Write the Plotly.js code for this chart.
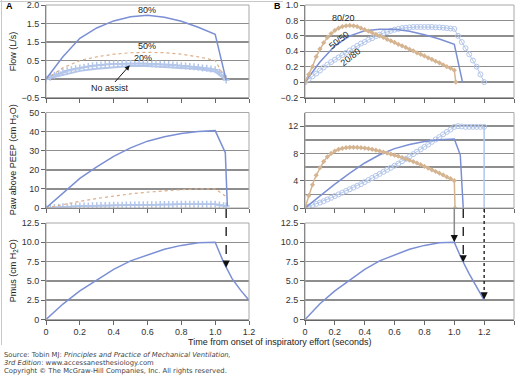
<!DOCTYPE html>
<html><head><meta charset="utf-8">
<script src="https://cdn.plot.ly/plotly-3.0.1.min.js"></script>
<style>html,body{margin:0;padding:0;background:#fff}#chart{width:520px;height:377px}</style>
</head><body><div id="chart"></div><script>
// ---------- DATA ----------
// Panel A (time in seconds)
const tA = [0,0.1,0.2,0.3,0.4,0.5,0.6,0.7,0.8,0.9,1.0,1.065];
const flowA80 = [0,0.6,1.1,1.38,1.57,1.68,1.72,1.67,1.56,1.4,1.21,-0.03];
const flowA50 = [0,0.3,0.5,0.6,0.67,0.71,0.72,0.71,0.67,0.6,0.5,-0.03];
const flowANo = [0,0.12,0.22,0.28,0.32,0.35,0.35,0.33,0.3,0.27,0.2,-0.03];
const t025 = [0,0.025,0.05,0.075,0.1,0.125,0.15,0.175,0.2,0.225,0.25,0.275,0.3,0.325,0.35,0.375,0.4,0.425,0.45,0.475,0.5,0.525,0.55,0.575,0.6,0.625,0.65,0.675,0.7,0.725,0.75,0.775,0.8,0.825,0.85,0.875,0.9,0.925,0.95,0.975,1.0];
const tA20tail = [1.025,1.05,1.065];
const flowA20 = [0,0.05,0.1,0.14,0.18,0.22,0.25,0.28,0.3,0.32,0.34,0.355,0.37,0.38,0.39,0.4,0.405,0.41,0.415,0.42,0.42,0.42,0.42,0.42,0.415,0.41,0.405,0.4,0.395,0.39,0.38,0.37,0.36,0.35,0.34,0.33,0.32,0.3,0.29,0.27,0.25,0.18,0.08,-0.03];
const tPawA80 = [0,0.1,0.2,0.3,0.4,0.5,0.6,0.7,0.8,0.9,1.0,1.06,1.072];
const pawA80 = [0,8,15.5,21.5,27,31.5,35,37.3,39,40,40.5,29,1];
const pawA50 = [0,1.8,3.5,5,6.3,7.4,8.3,9,9.6,10,10,6];
const pawA20 = [0,0.15,0.3,0.45,0.6,0.7,0.8,0.9,1.0,1.05,1.1,1.15,1.2,1.25,1.3,1.35,1.4,1.45,1.5,1.55,1.6,1.6,1.65,1.7,1.7,1.75,1.75,1.8,1.8,1.85,1.85,1.9,1.9,1.9,1.95,1.95,1.95,2.0,2.0,2.0,2.0,1.6,1.2,1.0];
const tPmus = [0,0.1,0.2,0.3,0.4,0.5,0.6,0.7,0.8,0.9,1.0,1.05,1.1,1.15,1.2];
const pmusA = [0,2,3.7,5.1,6.5,7.6,8.4,9.1,9.6,9.95,10,7.4,5.3,3.8,2.5];
// Panel B
const tB80tail = [1.01];
const flowB80 = [0,0.1,0.2,0.33,0.43,0.51,0.58,0.63,0.67,0.7,0.72,0.73,0.735,0.73,0.72,0.7,0.68,0.66,0.64,0.62,0.6,0.58,0.555,0.535,0.515,0.49,0.47,0.45,0.425,0.405,0.38,0.36,0.34,0.315,0.295,0.27,0.25,0.225,0.2,0.18,0.155,0];
const tB50 = [0,0.1,0.2,0.3,0.4,0.5,0.6,0.7,0.8,0.9,1.0,1.055];
const flowB50 = [0,0.26,0.47,0.6,0.665,0.685,0.685,0.66,0.615,0.56,0.49,0];
const tB20tail = [1.025,1.05,1.075,1.1,1.125,1.15,1.175,1.2];
const flowB20 = [0,0.04,0.075,0.11,0.15,0.19,0.225,0.26,0.29,0.32,0.35,0.38,0.41,0.44,0.47,0.5,0.52,0.55,0.57,0.595,0.615,0.635,0.65,0.665,0.68,0.69,0.7,0.705,0.71,0.715,0.715,0.715,0.715,0.715,0.715,0.71,0.71,0.705,0.7,0.695,0.69,0.6,0.52,0.44,0.36,0.28,0.2,0.1,0];
const tB80pawTail = [1.005];
const pawB80 = [0,1.8,3.4,4.8,5.9,6.8,7.5,8.0,8.35,8.6,8.75,8.85,8.9,8.9,8.88,8.84,8.78,8.7,8.6,8.48,8.35,8.2,8.05,7.9,7.75,7.6,7.4,7.2,7.0,6.8,6.6,6.35,6.1,5.85,5.6,5.35,5.1,4.85,4.55,4.3,4.0,0];
const tPawB50 = [0,0.1,0.2,0.3,0.4,0.5,0.6,0.7,0.8,0.9,1.0,1.04,1.06];
const pawB50 = [0,1.8,3.5,5.1,6.6,7.8,8.7,9.3,9.75,10,10.1,7.8,0];
const tB20pawTail = [1.025,1.05,1.075,1.1,1.125,1.15,1.175,1.2];
const pawB20 = [0,0.2,0.4,0.6,0.8,1.0,1.25,1.5,1.75,2.0,2.25,2.5,2.75,3.0,3.25,3.5,3.8,4.1,4.4,4.7,5.0,5.3,5.6,5.9,6.2,6.5,6.85,7.2,7.55,7.9,8.25,8.6,8.95,9.3,9.7,10.05,10.4,10.8,11.15,11.5,11.9,12.0,11.95,11.9,11.9,11.9,11.9,11.9,11.9];
const pawB20DropX = [1.2,1.2];
const pawB20DropY = [11.9,0];
const pmusB = [0,2.05,3.7,5.1,6.5,7.6,8.4,9.1,9.6,9.95,10,7.8,5.9,4.1,2.5];
// Arrows into Pmus panels (end-inspiration points)
const arrowAx = [1.065], arrowAy = [6.7];
const arrowBx = [1.0,1.06,1.2], arrowBy = [10,7.4,2.6];
// Tick labels
const xTickA = [0,0.2,0.4,0.6,0.8,1.0,1.2], xTickAText = ['0','0.2','0.4','0.6','0.8','1.0','1.2'];
const xTickB = [0,0.2,0.4,0.6,0.8,1.0,1.2,1.4], xTickBText = ['0','0.2','0.4','0.6','0.8','1.0','1.2','1.4'];
const yFlowA = [-0.5,0,0.5,1.0,1.5,2.0], yFlowAText = ['\u22120.5','0','0.5','1.5','1.5','2.0'];
const yFlowB = [-0.2,0,0.2,0.4,0.6,0.8,1.0], yFlowBText = ['\u22120.2','0','0.2','0.4','0.6','0.8','1.0'];
const yPawA = [0,10,20,30,40,50], yPawAText = ['0','10','20','30','40','50'];
const yPawB = [0,4,8,12], yPawBText = ['0','4','8','12'];
const yPmus = [0,2.5,5,7.5,10,12.5], yPmusText = ['0','2.5','5.0','7.5','10.0','12.5'];

// ---------- STYLE ----------
const BLUE = '#7b8fd4', TAN = '#d5b591', LBLUE = '#b3c6ea', TAN2 = '#dcae8a';
const FONT = 'Liberation Sans, Arial, sans-serif';
const SFONT = 'DejaVu Sans, Verdana, sans-serif';
const W = 520, H = 377;
const px = (a,b)=>[a/W,b/W];
const py = (top,bot)=>[1-bot/H,1-top/H];
const colA = px(46,249), colB = px(305,514);
const row1 = py(5,97.5), row2 = py(112.5,208), row3 = py(223,319.5);

const tf = {family:FONT,size:9,color:'#333'};
function xax(dom, range, anchor, labels, tv, tt){
  return {domain:dom, range:range, anchor:anchor, showgrid:false, zeroline:false,
    showline:true, linecolor:'#666', linewidth:1, ticks:'outside', ticklen:4, tickcolor:'#666',
    tickmode:'array', tickvals:tv, ticktext:tt, showticklabels:labels, tickfont:tf, fixedrange:true};
}
function yax(dom, range, anchor, tv, tt, minor){
  const o = {domain:dom, range:range, anchor:anchor, showgrid:true, gridcolor:'#8e8e8e', gridwidth:1.5,
    zeroline:false, showline:true, linecolor:'#666', linewidth:1, ticks:'outside', ticklen:4, tickcolor:'#666',
    tickmode:'array', tickvals:tv, ticktext:tt, tickfont:tf, fixedrange:true};
  if (minor) o.minor = {dtick:2, tick0:0, showgrid:true, gridcolor:'#8e8e8e', gridwidth:1.5, ticks:''};
  return o;
}

const traces = [
  // A flow
  {x:tA, y:flowANo, xaxis:'x', yaxis:'y', mode:'lines', line:{color:LBLUE,width:2}},
  {x:t025.concat(tA20tail), y:flowA20, xaxis:'x', yaxis:'y', mode:'lines+markers', line:{color:LBLUE,width:1.5},
    marker:{symbol:'cross-thin-open',size:5,color:LBLUE,line:{color:LBLUE,width:1.5}}},
  {x:tA, y:flowA50, xaxis:'x', yaxis:'y', mode:'lines', line:{color:TAN2,width:1.2,dash:'dot'}},
  {x:tA, y:flowA80, xaxis:'x', yaxis:'y', mode:'lines', line:{color:BLUE,width:1.5}},
  // B flow
  {x:t025.concat(tB20tail), y:flowB20, xaxis:'x2', yaxis:'y2', mode:'lines+markers', line:{color:LBLUE,width:1},
    marker:{symbol:'circle-open',size:5,color:LBLUE,line:{color:LBLUE,width:1}}},
  {x:tB50, y:flowB50, xaxis:'x2', yaxis:'y2', mode:'lines', line:{color:BLUE,width:1.5}},
  {x:t025.concat(tB80tail), y:flowB80, xaxis:'x2', yaxis:'y2', mode:'lines+markers', line:{color:TAN,width:1.5},
    marker:{symbol:'diamond',size:4,color:TAN}},
  // A Paw
  {x:t025.concat(tA20tail), y:pawA20, xaxis:'x3', yaxis:'y3', mode:'lines+markers', line:{color:LBLUE,width:1.5},
    marker:{symbol:'cross-thin-open',size:5,color:LBLUE,line:{color:LBLUE,width:1.5}}},
  {x:tA, y:pawA50, xaxis:'x3', yaxis:'y3', mode:'lines', line:{color:TAN2,width:1.2,dash:'dot'}},
  {x:tPawA80, y:pawA80, xaxis:'x3', yaxis:'y3', mode:'lines', line:{color:BLUE,width:1.5}},
  // B Paw
  {x:t025.concat(tB20pawTail), y:pawB20, xaxis:'x4', yaxis:'y4', mode:'lines+markers', line:{color:LBLUE,width:1},
    marker:{symbol:'circle-open',size:5,color:LBLUE,line:{color:LBLUE,width:1}}},
  {x:pawB20DropX, y:pawB20DropY, xaxis:'x4', yaxis:'y4', mode:'lines', line:{color:LBLUE,width:1.5}},
  {x:tPawB50, y:pawB50, xaxis:'x4', yaxis:'y4', mode:'lines', line:{color:BLUE,width:1.5}},
  {x:t025.concat(tB80pawTail), y:pawB80, xaxis:'x4', yaxis:'y4', mode:'lines+markers', line:{color:TAN,width:1.5},
    marker:{symbol:'diamond',size:4,color:TAN}},
  // Pmus
  {x:tPmus, y:pmusA, xaxis:'x5', yaxis:'y5', mode:'lines', line:{color:BLUE,width:1.5}},
  {x:tPmus, y:pmusB, xaxis:'x6', yaxis:'y6', mode:'lines', line:{color:BLUE,width:1.5}}
];

const shapes = [];
// plot frames
[['x','y'],['x2','y2'],['x3','y3'],['x4','y4'],['x5','y5'],['x6','y6']].forEach(([xa,ya])=>{
  shapes.push({type:'rect', xref:xa+' domain', yref:ya+' domain', x0:0,x1:1,y0:0,y1:1, line:{color:'#a8a8a8',width:1}, layer:'above'});
});
// outer light border (left and top)
shapes.push({type:'line', xref:'paper', yref:'paper', x0:1.5/W, x1:1.5/W, y0:1-345/H, y1:1, line:{color:'#c8c8c8',width:1}});
shapes.push({type:'line', xref:'paper', yref:'paper', x0:0, x1:283/W, y0:1-1.5/H, y1:1-1.5/H, line:{color:'#c8c8c8',width:1}});
// arrow shafts from the Paw panels into the Pmus panels
const startDom = (319.5-209)/(319.5-223);
const RMAX = 12.5;
shapes.push({type:'line', xref:'x5', yref:'y5 domain', x0:arrowAx[0], x1:arrowAx[0], y0:startDom, y1:arrowAy[0]/RMAX+0.05, line:{color:'#111',width:1.3,dash:'dash'}});
const bStyles = [{color:'#8a8a8a',width:1.5,dash:'solid'},{color:'#111',width:1.3,dash:'dash'},{color:'#111',width:1.3,dash:'dot'}];
arrowBx.forEach((xv,i)=>{
  shapes.push({type:'line', xref:'x6', yref:'y6 domain', x0:xv, x1:xv, y0:startDom, y1:arrowBy[i]/RMAX+0.05, line:bStyles[i]});
});

const af = {family:FONT,size:9,color:'#222'};
const sf = {family:SFONT,size:6.8,color:'#444'};
const annotations = [
  {xref:'paper',yref:'paper',x:4/W,y:1-6/H,text:'<b>A</b>',showarrow:false,xanchor:'left',yanchor:'middle',font:{family:FONT,size:9,color:'#000'}},
  {xref:'paper',yref:'paper',x:272/W,y:1-6/H,text:'<b>B</b>',showarrow:false,xanchor:'left',yanchor:'middle',font:{family:FONT,size:9,color:'#000'}},
  {xref:'paper',yref:'paper',x:13/W,y:(row1[0]+row1[1])/2,xanchor:'center',yanchor:'middle',text:'Flow (L/s)',textangle:-90,showarrow:false,font:af},
  {xref:'paper',yref:'paper',x:13/W,y:(row2[0]+row2[1])/2,xanchor:'center',yanchor:'middle',text:'Paw above PEEP (cm H<sub>2</sub>O)',textangle:-90,showarrow:false,font:af},
  {xref:'paper',yref:'paper',x:13/W,y:(row3[0]+row3[1])/2,xanchor:'center',yanchor:'middle',text:'Pmus (cm H<sub>2</sub>O)',textangle:-90,showarrow:false,font:af},
  {xref:'paper',yref:'paper',x:280/W,y:1-342/H,xanchor:'center',yanchor:'middle',text:'Time from onset of inspiratory effort (seconds)',showarrow:false,font:af},
  {xref:'x',yref:'y',x:0.595,y:1.86,text:'80%',showarrow:false,font:af},
  {xref:'x',yref:'y',x:0.595,y:0.88,text:'50%',showarrow:false,font:af},
  {xref:'x',yref:'y',x:0.575,y:0.58,text:'20%',showarrow:false,font:af},
  {xref:'x',yref:'y',x:0.38,y:-0.25,text:'No assist',showarrow:false,font:af},
  {xref:'x',yref:'y',x:0.495,y:0.37,ax:0.4,ay:-0.12,axref:'x',ayref:'y',text:'',showarrow:true,arrowhead:2,arrowsize:1,arrowwidth:1,arrowcolor:'#111'},
  {xref:'x2',yref:'y2',x:0.26,y:0.83,text:'80/20',showarrow:false,font:af},
  {xref:'x2',yref:'y2',x:0.23,y:0.54,text:'50/50',textangle:-38,showarrow:false,font:af},
  {xref:'x2',yref:'y2',x:0.305,y:0.33,text:'20/80',textangle:-38,showarrow:false,font:af},
  {xref:'paper',yref:'paper',x:2/W,y:1-355/H,xanchor:'left',yanchor:'middle',text:'Source: Tobin MJ: <i>Principles and Practice of Mechanical Ventilation,</i>',showarrow:false,font:sf},
  {xref:'paper',yref:'paper',x:2/W,y:1-362.5/H,xanchor:'left',yanchor:'middle',text:'<i>3rd Edition</i>: www.accessanesthesiology.com',showarrow:false,font:sf},
  {xref:'paper',yref:'paper',x:2/W,y:1-371/H,xanchor:'left',yanchor:'middle',text:'Copyright \u00a9 The McGraw-Hill Companies, Inc. All rights reserved.',showarrow:false,font:sf}
];
arrowAx.forEach((xv,i)=>annotations.push({xref:'x5',yref:'y5',x:xv,y:arrowAy[i],ax:0,ay:-7,text:'',showarrow:true,arrowhead:2,arrowsize:1.2,arrowwidth:1.2,arrowcolor:'#111',standoff:0}));
arrowBx.forEach((xv,i)=>annotations.push({xref:'x6',yref:'y6',x:xv,y:arrowBy[i],ax:0,ay:-7,text:'',showarrow:true,arrowhead:2,arrowsize:1.2,arrowwidth:1.2,arrowcolor:'#111',standoff:0}));

const layout = {
  width:W, height:H, margin:{l:0,r:0,t:0,b:0}, showlegend:false,
  paper_bgcolor:'#fff', plot_bgcolor:'#fff', font:{family:FONT,size:9,color:'#333'},
  xaxis: xax(colA,[0,1.2],'y',false,xTickA,xTickAText),
  yaxis: yax(row1,[-0.5,2.0],'x',yFlowA,yFlowAText),
  xaxis2: xax(colB,[0,1.4],'y2',false,xTickB,xTickBText),
  yaxis2: yax(row1,[-0.2,1.0],'x2',yFlowB,yFlowBText),
  xaxis3: xax(colA,[0,1.2],'y3',false,xTickA,xTickAText),
  yaxis3: yax(row2,[0,50],'x3',yPawA,yPawAText),
  xaxis4: xax(colB,[0,1.4],'y4',false,xTickB,xTickBText),
  yaxis4: yax(row2,[0,14],'x4',yPawB,yPawBText,true),
  xaxis5: xax(colA,[0,1.2],'y5',true,xTickA,xTickAText),
  yaxis5: yax(row3,[0,12.5],'x5',yPmus,yPmusText),
  xaxis6: xax(colB,[0,1.4],'y6',true,xTickB,xTickBText),
  yaxis6: yax(row3,[0,12.5],'x6',yPmus,yPmusText),
  shapes: shapes, annotations: annotations
};
Plotly.newPlot('chart', traces, layout, {staticPlot:true, displayModeBar:false});
</script></body></html>
